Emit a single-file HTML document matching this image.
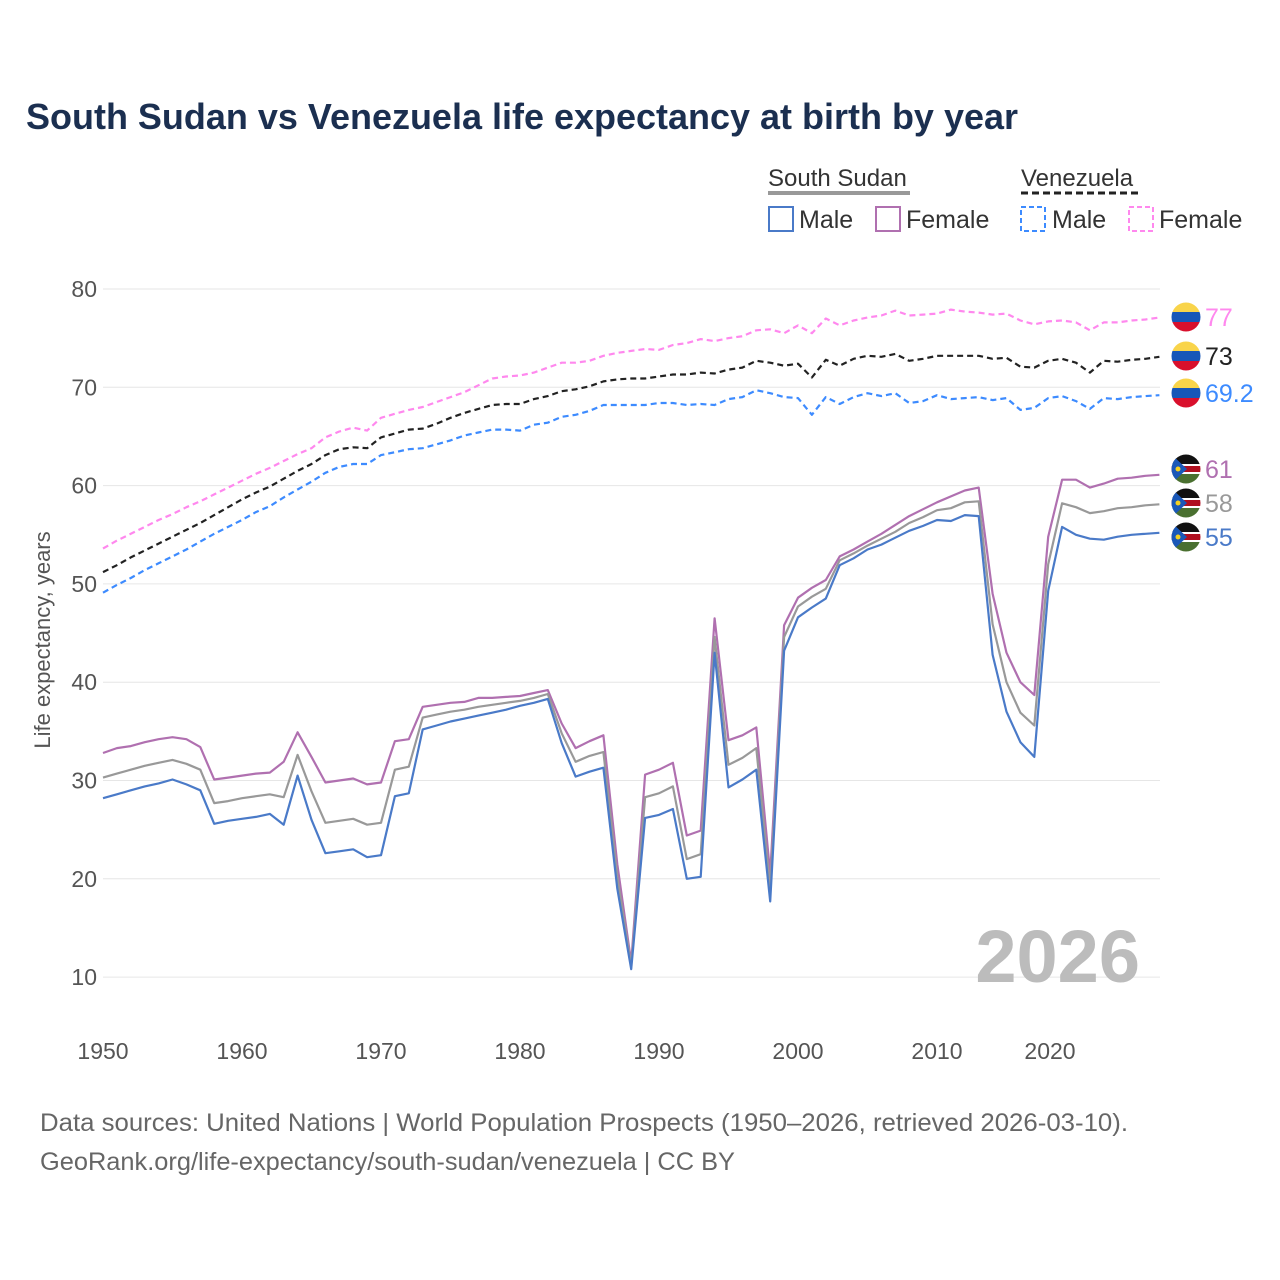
<!DOCTYPE html>
<html><head><meta charset="utf-8"><style>
body{margin:0;background:#fff;font-family:"Liberation Sans",sans-serif;}
#wrap{position:relative;width:1280px;height:1280px;overflow:hidden;}
</style></head><body>
<div id="wrap">
<svg id="chart" width="1280" height="1280" xmlns="http://www.w3.org/2000/svg">
<text x="26" y="129" font-size="36" font-weight="bold" fill="#1b2f50" textLength="992" lengthAdjust="spacingAndGlyphs">South Sudan vs Venezuela life expectancy at birth by year</text>
<g>
<text x="768" y="186" font-size="24" fill="#333">South Sudan</text>
<line x1="768" y1="193" x2="910" y2="193" stroke="#999" stroke-width="4"/>
<text x="1021" y="186" font-size="24" fill="#333">Venezuela</text>
<line x1="1021" y1="193" x2="1140" y2="193" stroke="#222" stroke-width="3" stroke-dasharray="7,4"/>
<rect x="769" y="207" width="24" height="24" fill="none" stroke="#4a7ac8" stroke-width="2"/>
<text x="799" y="228" font-size="25" fill="#333">Male</text>
<rect x="876" y="207" width="24" height="24" fill="none" stroke="#b070b0" stroke-width="2"/>
<text x="906" y="228" font-size="25" fill="#333">Female</text>
<rect x="1021" y="207" width="24" height="24" fill="none" stroke="#3d8bff" stroke-width="2" stroke-dasharray="5,3"/>
<text x="1052" y="228" font-size="25" fill="#333">Male</text>
<rect x="1129" y="207" width="24" height="24" fill="none" stroke="#ff88ee" stroke-width="2" stroke-dasharray="5,3"/>
<text x="1159" y="228" font-size="25" fill="#333">Female</text>
</g>
<g id="grid"></g>
<text x="1140" y="982" font-size="74" font-weight="bold" fill="#bcbcbc" text-anchor="end">2026</text>
<g id="series"></g>
<g id="ends"></g>
<text transform="translate(50,640) rotate(-90)" font-size="22" fill="#555" text-anchor="middle">Life expectancy, years</text>
<text x="40" y="1131" font-size="25" fill="#666" textLength="1088" lengthAdjust="spacingAndGlyphs">Data sources: United Nations | World Population Prospects (1950–2026, retrieved 2026-03-10).</text>
<text x="40" y="1170" font-size="25" fill="#666" textLength="695" lengthAdjust="spacingAndGlyphs">GeoRank.org/life-expectancy/south-sudan/venezuela | CC BY</text>
</svg>
</div>
<script>
const yTicks=[10,20,30,40,50,60,70,80];
const xTicks=[1950,1960,1970,1980,1990,2000,2010,2020];
const startYear=1950;
const ssMale=[28.2,28.6,29.0,29.4,29.7,30.1,29.6,29.0,25.6,25.9,26.1,26.3,26.6,25.5,30.5,26.0,22.6,22.8,23.0,22.2,22.4,28.4,28.7,35.2,35.6,36.0,36.3,36.6,36.9,37.2,37.6,37.9,38.3,33.8,30.4,30.9,31.3,19.0,10.8,26.2,26.5,27.1,20.0,20.2,43.0,29.3,30.1,31.1,17.7,43.2,46.6,47.6,48.5,51.9,52.6,53.5,54.0,54.7,55.4,55.9,56.5,56.4,57.0,56.9,42.8,37.0,33.9,32.4,49.3,55.8,55.0,54.6,54.5,54.8,55.0,55.1,55.2];
const ssFemale=[32.8,33.3,33.5,33.9,34.2,34.4,34.2,33.4,30.1,30.3,30.5,30.7,30.8,31.9,34.9,32.4,29.8,30.0,30.2,29.6,29.8,34.0,34.2,37.5,37.7,37.9,38.0,38.4,38.4,38.5,38.6,38.9,39.2,35.8,33.3,34.0,34.6,21.5,11.5,30.6,31.1,31.8,24.4,24.9,46.5,34.1,34.6,35.4,20.5,45.8,48.6,49.6,50.4,52.8,53.5,54.3,55.1,56.0,56.9,57.6,58.3,58.9,59.5,59.8,49.0,43.0,40.0,38.7,54.8,60.6,60.6,59.8,60.2,60.7,60.8,61.0,61.1];
const ssTotal=[30.3,30.7,31.1,31.5,31.8,32.1,31.7,31.1,27.7,27.9,28.2,28.4,28.6,28.3,32.6,28.9,25.7,25.9,26.1,25.5,25.7,31.1,31.4,36.4,36.7,37.0,37.2,37.5,37.7,37.9,38.1,38.4,38.8,34.8,31.9,32.5,32.9,20.2,11.1,28.3,28.7,29.4,22.0,22.5,44.6,31.6,32.3,33.3,19.0,44.6,47.7,48.7,49.5,52.4,53.1,53.9,54.6,55.3,56.2,56.8,57.5,57.7,58.3,58.4,45.9,40.0,36.9,35.6,52.0,58.2,57.8,57.2,57.4,57.7,57.8,58.0,58.1];
const veMale=[49.1,49.9,50.6,51.4,52.1,52.8,53.5,54.3,55.1,55.8,56.5,57.3,57.9,58.8,59.6,60.4,61.3,61.9,62.2,62.2,63.1,63.4,63.7,63.8,64.2,64.6,65.1,65.4,65.7,65.7,65.6,66.2,66.4,67.0,67.2,67.6,68.2,68.2,68.2,68.2,68.4,68.4,68.2,68.3,68.2,68.8,69.0,69.7,69.4,69.0,68.9,67.2,69.0,68.3,69.0,69.4,69.1,69.4,68.4,68.6,69.2,68.8,68.9,69.0,68.7,68.9,67.7,67.9,68.9,69.1,68.6,67.8,68.9,68.8,69.0,69.1,69.2];
const veTotal=[51.2,51.9,52.7,53.4,54.1,54.8,55.5,56.2,57.0,57.8,58.6,59.3,59.9,60.7,61.5,62.2,63.1,63.7,63.9,63.8,64.9,65.3,65.7,65.8,66.3,66.9,67.4,67.8,68.2,68.3,68.3,68.8,69.1,69.6,69.8,70.1,70.6,70.8,70.9,70.9,71.1,71.3,71.3,71.5,71.4,71.8,72.0,72.7,72.5,72.2,72.4,71.0,72.8,72.2,72.9,73.2,73.1,73.4,72.7,72.9,73.2,73.2,73.2,73.2,72.9,73.0,72.1,72.0,72.7,72.9,72.5,71.5,72.7,72.6,72.8,72.9,73.1];
const veFemale=[53.6,54.4,55.1,55.8,56.5,57.1,57.8,58.4,59.1,59.8,60.5,61.2,61.8,62.5,63.2,63.8,64.9,65.5,65.9,65.6,66.9,67.3,67.7,68.0,68.5,69.0,69.5,70.2,70.9,71.1,71.2,71.5,72.0,72.5,72.5,72.7,73.2,73.5,73.7,73.9,73.8,74.3,74.5,74.9,74.7,75.0,75.2,75.8,75.9,75.5,76.3,75.5,77.0,76.3,76.8,77.1,77.3,77.8,77.3,77.4,77.5,77.9,77.7,77.6,77.4,77.5,76.8,76.4,76.7,76.8,76.6,75.8,76.6,76.6,76.8,76.9,77.1];
const endLabels=["77","73","69.2","61","58","55"];

const NS="http://www.w3.org/2000/svg";
const X=y=>103+(y-1950)*13.9;
const Y=v=>289+(80-v)*9.83;
function mk(t,a,p){const e=document.createElementNS(NS,t);for(const k in a)e.setAttribute(k,a[k]);p.appendChild(e);return e;}
const grid=document.getElementById('grid');
yTicks.forEach(t=>{
  const l=mk('line',{x1:103,x2:1160,y1:Y(t),y2:Y(t),stroke:'#e6e6e6','stroke-width':1},grid);
  
  
  const tx=mk('text',{x:97,y:Y(t)+8,'font-size':23,fill:'#555','text-anchor':'end'},grid);
  tx.textContent=t;
  
  
});
xTicks.forEach((t,i)=>{
  let cx=X(t); if(t===2020) cx=1050;
  const tx=mk('text',{x:cx,y:1059,'font-size':23,fill:'#555','text-anchor':'middle'},grid);
  tx.textContent=t;
  
  
});
const sg=document.getElementById('series');
const series=[
 [veFemale,'#ff88ee','6,4','ve-female-line'],
 [veTotal,'#222','6,4','ve-total-line'],
 [veMale,'#3d8bff','6,4','ve-male-line'],
 [ssFemale,'#b070b0','','ss-female-line'],
 [ssTotal,'#999','','ss-total-line'],
 [ssMale,'#4a7ac8','','ss-male-line']];
series.forEach(s=>{
  const d=s[0].map((v,i)=>(i?'L':'M')+X(startYear+i).toFixed(1)+','+Y(v).toFixed(1)).join('');
  const p=mk('path',{d:d,fill:'none',stroke:s[1],'stroke-width':2.2,'stroke-dasharray':s[2],'stroke-linejoin':'round'},sg);
  
  
});
const eg=document.getElementById('ends');
const flagY=[317,356,393,469,503,537];
series.forEach((s,i)=>{
  const fy=flagY[i], cx=1186;
  const g=mk('g',{},eg);
  
  
  const cid='c'+i;
  const cp=mk('clipPath',{id:cid},g); mk('circle',{cx:cx,cy:fy,r:14.5},cp);
  const fg=mk('g',{'clip-path':'url(#'+cid+')'},g);
  if(i<3){
    mk('rect',{x:cx-15,y:fy-15,width:30,height:10,fill:'#f9d44a'},fg);
    mk('rect',{x:cx-15,y:fy-5,width:30,height:10,fill:'#1757b8'},fg);
    mk('rect',{x:cx-15,y:fy+5,width:30,height:10,fill:'#d9102c'},fg);
  }else{
    mk('rect',{x:cx-15,y:fy-15,width:30,height:10,fill:'#111'},fg);
    mk('rect',{x:cx-15,y:fy-5,width:30,height:10,fill:'#fff'},fg);
    mk('rect',{x:cx-15,y:fy-3,width:30,height:6,fill:'#b01020'},fg);
    mk('rect',{x:cx-15,y:fy+5,width:30,height:10,fill:'#4a7030'},fg);
    mk('polygon',{points:(cx-15)+','+(fy-15)+' '+(cx+1)+','+fy+' '+(cx-15)+','+(fy+15),fill:'#1a58b8'},fg);
    mk('circle',{cx:cx-8,cy:fy,r:2.5,fill:'#f5d020'},fg);
  }
  const t=mk('text',{x:1205,y:fy+9,'font-size':25,fill:s[1]},eg);
  t.textContent=endLabels[i];
  
  
});
</script>
</body></html>
